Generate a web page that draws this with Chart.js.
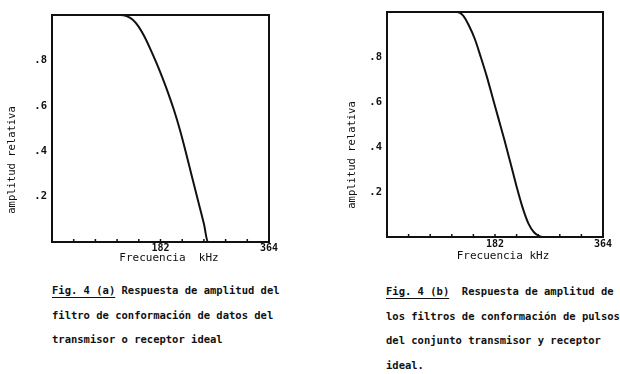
<!DOCTYPE html>
<html>
<head>
<meta charset="utf-8">
<script src="https://cdn.jsdelivr.net/npm/chart.js@4.4.1/dist/chart.umd.min.js"></script>
<style>
body{margin:0;background:#fff;width:620px;height:374px;position:relative;overflow:hidden;font-family:"DejaVu Sans Mono",monospace;color:#111}
.box{position:absolute;top:0;width:310px;height:270px}
.cap{position:absolute;font-size:10.5px;font-weight:bold;line-height:24.5px;white-space:pre}
.cap u{text-underline-offset:3px}
</style>
</head>
<body>
<div class="box" style="left:0"><canvas id="chartA" width="310" height="270"></canvas></div>
<div class="box" style="left:310px"><canvas id="chartB" width="310" height="270"></canvas></div>
<div class="cap" id="capA" style="left:52px;top:278px"></div>
<div class="cap" id="capB" style="left:386px;top:279px"></div>
<script>
// frecuencia (kHz) / amplitud relativa
const freqA=[0,115,125,135,145,155,165,175,185,195,205,215,225,235,245,255,261.5,364];
const ampA=[1,1,0.995,0.98,0.95,0.905,0.85,0.79,0.725,0.655,0.578,0.49,0.39,0.285,0.182,0.078,0,0];
const freqB=[0,118,128,138,148,158,168,178,188,198,208,218,228,238,248,258,266,364];
const ampB=[1,1,0.985,0.94,0.88,0.80,0.715,0.62,0.525,0.43,0.33,0.228,0.135,0.062,0.02,0.003,0,0];

const xTicks=[0,36.4,72.8,109.2,145.6,182,218.4,254.8,291.2,327.6,364];
const xTickLabels=['','','','','','182','','','','','364'];
const yTicks=[0,0.2,0.4,0.6,0.8,1];
const yTickLabels=['','.2','.4','.6','.8',''];

const capA=['Fig. 4 (a)| Respuesta de amplitud del','filtro de conformación de datos del','transmisor o receptor ideal'];
const capB=['Fig. 4 (b)|  Respuesta de amplitud de','los filtros de conformación de pulsos','del conjunto transmisor y receptor','ideal.'];

const ink='#111';
const fontName='"DejaVu Sans Mono"';

// marco, marcas interiores y titulos de ejes
const decor={
  id:'decor',
  afterDraw(c,args,o){
    const {ctx,chartArea:a,scales:{x}}=c;
    ctx.save();
    ctx.strokeStyle=ink;ctx.lineWidth=2;
    ctx.strokeRect(a.left,a.top,a.right-a.left,a.bottom-a.top);
    ctx.lineWidth=1.5;
    xTicks.forEach(v=>{
      const px=x.getPixelForValue(v);
      ctx.beginPath();ctx.moveTo(px,a.bottom);ctx.lineTo(px,a.bottom-3);ctx.stroke();
    });
    ctx.fillStyle=ink;
    ctx.font='11px '+fontName;
    ctx.textAlign='center';ctx.textBaseline='middle';
    ctx.fillText(o.xTitle,o.xTitleX,o.xTitleY);
    ctx.font='10.5px '+fontName;
    ctx.translate(o.yTitleX,o.yTitleY);
    ctx.rotate(-Math.PI/2);
    ctx.fillText(o.yTitle,0,0);
    ctx.restore();
  }
};

function makeChart(id,freq,amp,g){
  return new Chart(document.getElementById(id),{
    type:'line',
    data:{datasets:[{
      data:freq.map((f,i)=>({x:f,y:amp[i]})),
      borderColor:ink,borderWidth:2,pointRadius:0,
      cubicInterpolationMode:'monotone',fill:false
    }]},
    options:{
      responsive:false,animation:false,
      layout:{padding:{left:g.padL,right:g.padR,top:g.padT,bottom:0}},
      plugins:{legend:{display:false},tooltip:{enabled:false},
        decor:{xTitle:g.xTitle,xTitleX:g.xtx,xTitleY:g.xty,yTitle:'amplitud relativa',yTitleX:g.ytx,yTitleY:g.yty}},
      scales:{
        x:{type:'linear',min:0,max:364,
          afterBuildTicks:s=>{s.ticks=xTicks.map(v=>({value:v}));},
          afterFit:s=>{s.height=g.xh;},
          ticks:{autoSkip:false,maxRotation:0,padding:g.xpad,color:ink,font:{family:fontName,size:10,weight:'bold'},
            callback:(v,i)=>xTickLabels[i]},
          grid:{display:false,drawTicks:false},border:{display:false}},
        y:{min:0,max:1,
          afterBuildTicks:s=>{s.ticks=yTicks.map(v=>({value:v}));},
          afterFit:s=>{s.width=g.yw;},
          ticks:{autoSkip:false,padding:5,color:ink,font:{family:fontName,size:10.5,weight:'bold'},
            callback:(v,i)=>yTickLabels[i]},
          grid:{display:false,drawTicks:false},border:{display:false}}
      }
    },
    plugins:[decor]
  });
}

makeChart('chartA',freqA,ampA,{padL:0,padR:41,padT:15,xh:28,yw:52,xpad:0,
  xTitle:'Frecuencia  kHz',xtx:169,xty:258,ytx:12,yty:160});
makeChart('chartB',freqB,ampB,{padL:0,padR:17,padT:12,xh:33,yw:77,xpad:1,
  xTitle:'Frecuencia kHz',xtx:193,xty:256,ytx:42,yty:155});

function fillCaption(id,lines){
  const el=document.getElementById(id);
  el.innerHTML=lines.map(l=>{
    const p=l.split('|');
    return p.length>1?'<u>'+p[0]+'</u>'+p[1]:l;
  }).join('\n');
}
fillCaption('capA',capA);
fillCaption('capB',capB);
</script>
</body>
</html>
